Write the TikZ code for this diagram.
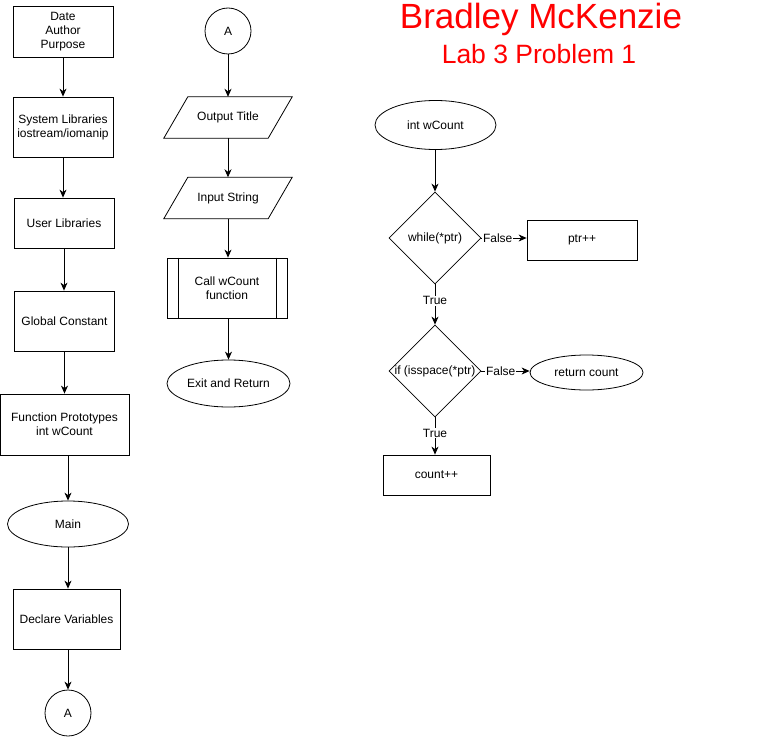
\documentclass[tikz,border=0pt]{standalone}
\usepackage{fontspec}
\setmainfont{Liberation Sans}
\usetikzlibrary{shapes.geometric,arrows.meta}
\begin{document}
\begin{tikzpicture}[x=1pt,y=-1pt,
  base/.style={draw, line width=0.8pt, font=\fontsize{12}{14}\selectfont, align=center, inner sep=0pt},
  proc/.style={base, rectangle},
  term/.style={base, ellipse},
  io/.style={font=\fontsize{12}{14}\selectfont, align=center, inner sep=0pt, minimum width=104, minimum height=41},
  iodraw/.style={line width=0.8pt, line join=miter},
  dec/.style={base, diamond, minimum width=92, minimum height=92},
  conn/.style={base, circle, minimum size=46},
  dtext/.style={font=\fontsize{12}{14}\selectfont, inner sep=0pt},
  arr/.style={line width=0.8pt, -{Stealth[length=8pt,width=7pt,inset=2.5pt]}},
  lbl/.style={fill=white, inner sep=1pt, font=\fontsize{12}{14}\selectfont},
  ttl/.style={text=red, anchor=base, inner sep=0pt}
]
\useasboundingbox (0,0) rectangle (759,738);

% title
\node[ttl, font=\fontsize{35}{40}\selectfont] (t1) at (541,29) {Bradley McKenzie};
\node[ttl, font=\fontsize{26.5}{30}\selectfont] (t2) at (539,64) {Lab 3 Problem 1};

% left column
\node[proc, minimum width=100, minimum height=51] (b1) at (63,31.5) {Date\\Author\\Purpose};
\node[proc, minimum width=100, minimum height=60] (b2) at (63,127) {System Libraries\\iostream/iomanip};
\node[proc, minimum width=100, minimum height=50] (b3) at (64,223) {User Libraries};
\node[proc, minimum width=100, minimum height=60] (b4) at (64.5,321) {Global Constant};
\node[proc, minimum width=129, minimum height=61] (b5) at (64.5,424.5) {Function Prototypes\\int wCount};
\node[term, minimum width=121, minimum height=46] (mn) at (68,524) {Main};
\node[proc, minimum width=107, minimum height=60] (dv) at (66.5,619) {Declare Variables};
\node[conn] (a1) at (68,713) {A};

\draw[arr] (b1.south) -- (b1.south |- b2.north);
\draw[arr] (b2.south) -- (b2.south |- b3.north);
\draw[arr] (b3.south) -- (b3.south |- b4.north);
\draw[arr] (b4.south) -- (b4.south |- b5.north);
\draw[arr] (b5.south -| mn.north) -- (mn.north);
\draw[arr] (mn.south) -- (mn.south |- dv.north);
\draw[arr] (dv.south -| a1.north) -- (a1.north);

% middle column
\node[conn] (a2) at (228,31) {A};
\node[io] (ot) at (228,117.5) {Output Title};
\draw[iodraw] ([xshift=-12pt]ot.south west) -- ([xshift=-12pt]ot.south east)
  -- ([xshift=12pt]ot.north east) -- ([xshift=12pt]ot.north west) -- cycle;
\node[io] (is) at (228,198) {Input String};
\draw[iodraw] ([xshift=-12pt]is.south west) -- ([xshift=-12pt]is.south east)
  -- ([xshift=12pt]is.north east) -- ([xshift=12pt]is.north west) -- cycle;
\node[proc, minimum width=120, minimum height=60] (cw) at (227,288) {Call wCount\\function};
\draw[line width=0.8pt] ([xshift=12pt]cw.north west) -- ([xshift=12pt]cw.south west)
  ([xshift=-11.5pt]cw.north east) -- ([xshift=-11.5pt]cw.south east);
\node[term, minimum width=123, minimum height=47] (ex) at (228.5,383.5) {Exit and Return};

\draw[arr] (a2.south) -- (a2.south |- ot.north);
\draw[arr] (ot.south) -- (ot.south |- is.north);
\draw[arr] (is.south) -- (is.south |- cw.north);
\draw[arr] (cw.south -| ex.north) -- (ex.north);

% right column
\node[term, minimum width=121, minimum height=49] (wc) at (435.5,125) {int wCount};
\node[dec] (d1) at (435,238) {};
\node[dtext] (d1t) at (d1) {while(*ptr)};
\node[proc, minimum width=110, minimum height=40] (pp) at (582,240) {ptr++};
\node[dec] (d2) at (435,371) {};
\node[dtext] (d2t) at (d2) {if (isspace(*ptr)};
\node[term, minimum width=113, minimum height=35] (rc) at (586.5,372.5) {return count};
\node[proc, minimum width=107, minimum height=40] (cn) at (436.5,475) {count++};

\draw[arr] (wc.south -| d1.north) -- (d1.north);
\draw[arr] (d1.east) -- (d1.east -| pp.west) node[lbl, pos=0.36] {False};
\draw[arr] (d1.south) -- (d2.north) node[lbl, pos=0.41] {True};
\draw[arr] (d2.east) -- (d2.east -| rc.west) node[lbl, pos=0.4] {False};
\draw[arr] (d2.south) -- (d2.south |- cn.north) node[lbl, pos=0.42] {True};
\end{tikzpicture}
\end{document}
